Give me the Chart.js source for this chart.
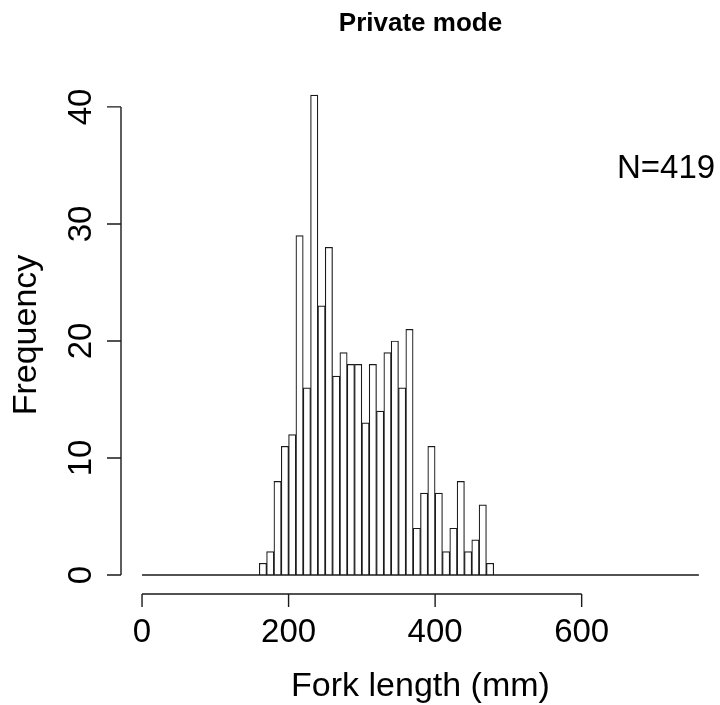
<!DOCTYPE html>
<html>
<head>
<meta charset="utf-8">
<title>Private mode</title>
<script src="https://cdn.jsdelivr.net/npm/chart.js@4"></script>
<style>
  html, body { margin: 0; padding: 0; background: #fff; }
  #wrap { width: 720px; height: 705px; }
</style>
</head>
<body>
<div id="wrap"><canvas id="histChart" width="720" height="705"></canvas></div>
<script>
// Fork length histogram, 10 mm bins
const binLefts = [160, 170, 180, 190, 200, 210, 220, 230, 240, 250, 260, 270, 280, 290, 300, 310,
                  320, 330, 340, 350, 360, 370, 380, 390, 400, 410, 420, 430, 440, 450, 460, 470];
const counts   = [1, 2, 8, 11, 12, 29, 16, 41, 23, 28, 17, 19, 18, 18, 13, 18,
                  14, 19, 20, 16, 21, 4, 7, 11, 7, 2, 4, 8, 2, 3, 6, 1];
const binWidth = 10;
const breakRange = [0, 760];      // full range of histogram breaks (empty bins drawn flat)
const xTicks = [0, 200, 400, 600];
const yTicks = [0, 10, 20, 30, 40];
const titleText = 'Private mode';
const noteText = 'N=419';

const FONT = '"Liberation Sans", Arial, Helvetica, sans-serif';
const INK = '#1a1a1a';

const barData = binLefts.map((b, i) => ({ x: b + binWidth / 2, y: counts[i] }));
const baseLine = breakRange.map(v => ({ x: v, y: 0 }));

// R-style axes, labels and annotations drawn onto the canvas
const rAxes = {
    id: 'rAxes',
    afterDraw(chart) {
        const ctx = chart.ctx;
        const area = chart.chartArea;
        const xs = chart.scales.x, ys = chart.scales.y;
        ctx.save();
        ctx.strokeStyle = INK;
        ctx.fillStyle = '#000';
        ctx.lineWidth = 1.4;

        // y axis
        const yl = area.left;
        ctx.beginPath();
        ctx.moveTo(yl, ys.getPixelForValue(yTicks[0]));
        ctx.lineTo(yl, ys.getPixelForValue(yTicks[yTicks.length - 1]));
        yTicks.forEach(t => {
            const py = ys.getPixelForValue(t);
            ctx.moveTo(yl, py);
            ctx.lineTo(yl - 14, py);
        });
        ctx.stroke();

        ctx.font = '33px ' + FONT;
        ctx.textAlign = 'center';
        ctx.textBaseline = 'alphabetic';
        yTicks.forEach(t => {
            const py = ys.getPixelForValue(t);
            ctx.save();
            ctx.translate(yl - 30, py);
            ctx.rotate(-Math.PI / 2);
            ctx.fillText(String(t), 0, 0);
            ctx.restore();
        });

        // x axis
        const xb = area.bottom;
        ctx.beginPath();
        ctx.moveTo(xs.getPixelForValue(xTicks[0]), xb);
        ctx.lineTo(xs.getPixelForValue(xTicks[xTicks.length - 1]), xb);
        xTicks.forEach(t => {
            const px = xs.getPixelForValue(t);
            ctx.moveTo(px, xb);
            ctx.lineTo(px, xb + 13);
        });
        ctx.stroke();

        xTicks.forEach(t => {
            ctx.fillText(String(t), xs.getPixelForValue(t), xb + 48);
        });

        // axis titles
        ctx.font = '34px ' + FONT;
        ctx.fillText('Fork length (mm)', (area.left + area.right) / 2, xb + 102);
        ctx.save();
        ctx.translate(36, (area.top + area.bottom) / 2);
        ctx.rotate(-Math.PI / 2);
        ctx.fillText('Frequency', 0, 0);
        ctx.restore();

        // main title
        ctx.font = 'bold 26px ' + FONT;
        ctx.fillText(titleText, (area.left + area.right) / 2, 31);

        // sample size note
        ctx.font = '33px ' + FONT;
        ctx.textAlign = 'left';
        ctx.fillText(noteText, 617, 178);
        ctx.restore();
    }
};

new Chart(document.getElementById('histChart'), {
    type: 'bar',
    data: {
        datasets: [
            {
                type: 'line',
                data: baseLine,
                borderColor: INK,
                borderWidth: 1.4,
                pointRadius: 0,
                order: 1
            },
            {
                type: 'bar',
                data: barData,
                backgroundColor: '#fff',
                borderColor: INK,
                borderWidth: 1.2,
                borderSkipped: 'start',
                barPercentage: 1,
                categoryPercentage: 1,
                order: 2
            }
        ]
    },
    options: {
        responsive: false,
        animation: false,
        events: [],
        layout: { padding: { left: 121, right: 0, top: 76, bottom: 111 } },
        plugins: {
            legend: { display: false },
            title: { display: false },
            tooltip: { enabled: false }
        },
        scales: {
            x: { type: 'linear', display: false, offset: false, min: -28.7, max: 788.8 },
            y: { display: false, min: -1.62, max: 42.64 }
        }
    },
    plugins: [rAxes]
});
</script>
</body>
</html>
